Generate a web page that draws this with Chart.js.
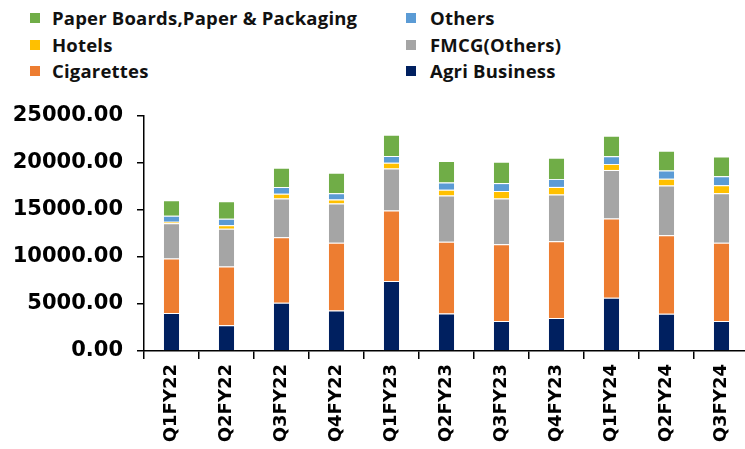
<!DOCTYPE html>
<html>
<head>
<meta charset="utf-8">
<script src="https://cdn.jsdelivr.net/npm/chart.js@4/dist/chart.umd.min.js"></script>
<style>
  html, body { margin: 0; padding: 0; background: #fff; overflow: hidden; width: 745px; height: 449px; }
  #wrap { position: absolute; left: 0; top: 0; width: 749px; height: 449px; }
  #legend { position: absolute; left: 0; top: 0; width: 745px; height: 100px; }
  .li { position: absolute; height: 22px; line-height: 22px; font-family: "Open Sans", sans-serif; font-weight: 700; font-size: 18.5px; letter-spacing: 0.2px; color: #111; white-space: nowrap; }
  .sw { position: absolute; width: 10px; height: 10px; top: 6px; }
  .tx { position: absolute; left: 0; top: 0; }
</style>
</head>
<body>
<div id="legend"></div>
<div id="wrap"><canvas id="c" width="749" height="449"></canvas></div>
<script>
const categories = ["Q1FY22","Q2FY22","Q3FY22","Q4FY22","Q1FY23","Q2FY23","Q3FY23","Q4FY23","Q1FY24","Q2FY24","Q3FY24"];
const agriBusiness = [4050, 2740, 5120, 4310, 7440, 3990, 3200, 3520, 5660, 3950, 3200];
const cigarettes   = [5800, 6260, 6980, 7210, 7500, 7640, 8150, 8150, 8430, 8370, 8320];
const fmcgOthers   = [3740, 4010, 4120, 4160, 4480, 4910, 4870, 4970, 5170, 5290, 5270];
const hotels       = [170, 360, 500, 430, 610, 610, 790, 820, 640, 710, 850];
const others       = [640, 700, 720, 680, 710, 780, 850, 850, 810, 890, 960];
const paperBoards  = [1640, 1860, 2060, 2170, 2270, 2280, 2270, 2240, 2180, 2100, 2090];
const yTicks = [0, 5000, 10000, 15000, 20000, 25000];

const series = [
  { label: "Agri Business", data: agriBusiness, color: "#002060" },
  { label: "Cigarettes", data: cigarettes, color: "#ED7D31" },
  { label: "FMCG(Others)", data: fmcgOthers, color: "#A5A5A5" },
  { label: "Hotels", data: hotels, color: "#FFC000" },
  { label: "Others", data: others, color: "#5B9BD5" },
  { label: "Paper Boards,Paper & Packaging", data: paperBoards, color: "#70AD47" }
];

// HTML legend (reverse order, 2 columns)
const legendOrder = series.slice().reverse();
const leg = document.getElementById('legend');
const colX = [30, 406];
const rowY = [7, 34, 60];
legendOrder.forEach((s, i) => {
  const col = i % 2, row = Math.floor(i / 2);
  const d = document.createElement('div');
  d.className = 'li';
  d.style.left = colX[col] + 'px';
  d.style.top = rowY[row] + 'px';
  const sw = document.createElement('div');
  sw.className = 'sw';
  sw.style.left = '0px';
  sw.style.background = s.color;
  const tx = document.createElement('div');
  tx.className = 'tx';
  tx.style.left = (col === 0 ? 22 : 24) + 'px';
  tx.textContent = s.label;
  d.appendChild(sw); d.appendChild(tx);
  leg.appendChild(d);
});

const tickFont = { family: "'DejaVu Sans', sans-serif", weight: 'bold', size: 21 };
new Chart(document.getElementById('c'), {
  type: 'bar',
  data: {
    labels: categories,
    datasets: series.map(s => ({
      label: s.label,
      data: s.data,
      backgroundColor: s.color,
      borderColor: 'rgba(255,255,255,0.45)',
      borderWidth: 1,
      categoryPercentage: 1,
      barPercentage: 0.31
    }))
  },
  options: {
    responsive: false,
    animation: false,
    layout: { padding: { top: 116, right: 0, left: 0, bottom: 0 } },
    plugins: { legend: { display: false }, tooltip: { enabled: false } },
    scales: {
      x: {
        stacked: true,
        afterFit: (sc) => { sc.height = 98; },
        border: { display: true, color: '#000', width: 1.5 },
        grid: { display: true, drawOnChartArea: false, drawTicks: true, tickLength: 8, color: '#000', lineWidth: 1.5, offset: true },
        ticks: { autoSkip: false, maxRotation: 90, minRotation: 90, padding: 5, color: '#000', font: { family: "'DejaVu Sans', sans-serif", weight: 'bold', size: 18 } }
      },
      y: {
        stacked: true,
        min: 0, max: 25000,
        afterFit: (sc) => { sc.width = 144; },
        afterBuildTicks: (sc) => { sc.ticks = yTicks.map(v => ({ value: v })); },
        border: { display: true, color: '#000', width: 1.5 },
        grid: { display: true, drawOnChartArea: false, drawTicks: true, tickLength: 7, color: '#000', lineWidth: 1.5 },
        ticks: { padding: 14, color: '#000', font: tickFont, callback: (v) => Number(v).toFixed(2) }
      }
    }
  }
});
</script>
</body>
</html>
